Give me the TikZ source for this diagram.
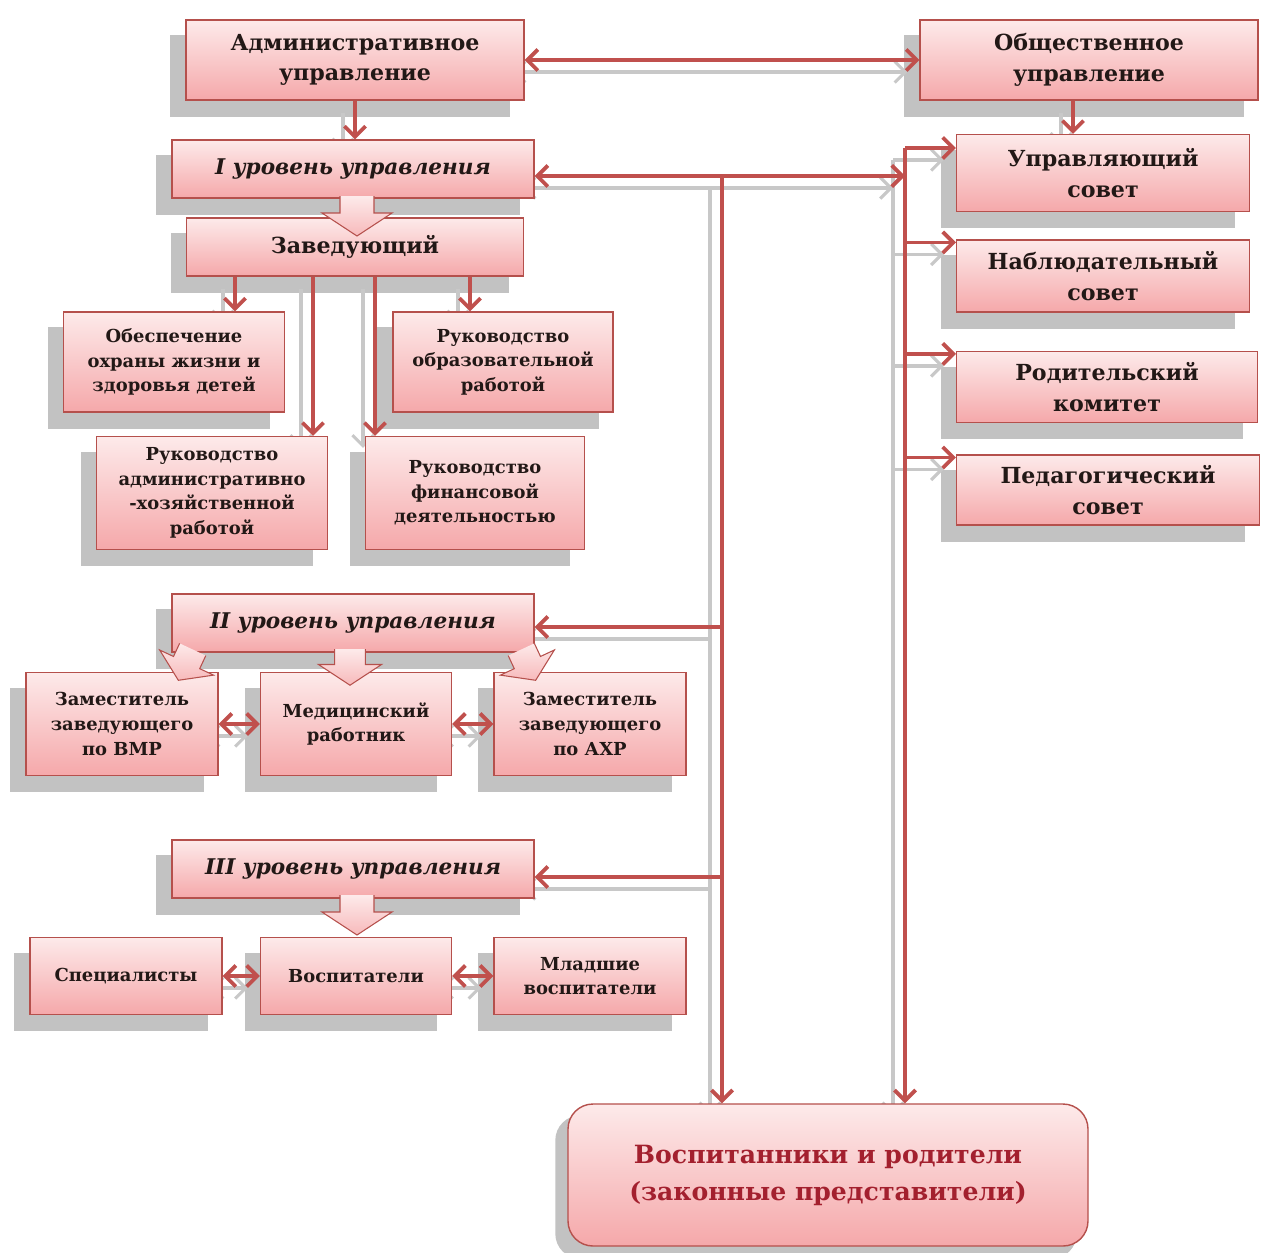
\documentclass[tikz,border=0pt]{standalone}
\usepackage{fontspec}
\setmainfont{DejaVu Serif}
\usetikzlibrary{arrows.meta, calc}

\definecolor{wirered}{HTML}{C0504D}
\definecolor{ghostgray}{HTML}{C8C8C8}
\definecolor{boxtop}{HTML}{FDEAEA}
\definecolor{boxbot}{HTML}{F5A8AA}
\definecolor{boxedge}{HTML}{B5504C}
\definecolor{inktext}{HTML}{221816}
\definecolor{pupilink}{HTML}{A3202E}
\definecolor{shadowgray}{HTML}{C2C2C2}

\pgfdeclarelayer{background}
\pgfsetlayers{background,main}

% red connector with its gray shadow copy underneath
\newcommand{\flow}[2][->]{%
  \begin{pgfonlayer}{background}
    \draw[ghost, #1] #2;
  \end{pgfonlayer}
  \draw[wire, #1] #2;}

\tikzset{
  box/.style={draw=boxedge, line width=0.6pt, top color=boxtop, bottom color=boxbot,
    text=inktext, align=center, inner sep=2pt},
  wh/.style 2 args={minimum width=#1*0.02cm, minimum height=#2*0.02cm},
  big/.style={font=\bfseries\fontsize{12.6}{17.5}\selectfont},
  small/.style={font=\bfseries\fontsize{10.2}{14}\selectfont},
  lvl/.style={font=\bfseries\itshape\fontsize{12.3}{17}\selectfont},
  wire/.style={draw=wirered, line width=2.2pt},
  ghost/.style={draw=ghostgray, line width=1.8pt,
    transform canvas={xshift=-0.24cm, yshift=-0.24cm}},
  pics/fatarrow/.style={code={
    \path[top color=boxtop, bottom color=boxbot!80!white]
      (-17,-2) -- (-17,15) -- (-35,15) -- (0,38) -- (35,15) -- (17,15) -- (17,-2) -- cycle;
    \draw[boxedge, line width=0.6pt]
      (-17,-2) -- (-17,15) -- (-35,15) -- (0,38) -- (35,15) -- (17,15) -- (17,-2);
  }}
}

\begin{document}
\begin{tikzpicture}[x=0.02cm, y=-0.02cm, >={Straight Barb[length=6pt,width=12pt]}]
\useasboundingbox (0,0) rectangle (1261,1252);

% governing bodies
\node[box, big, wh={338}{80}] (adm) at (355,60) {Административное\\управление};
\node[box, big, wh={338}{80}] (obsh) at (1089,60) {Общественное\\управление};

% first level
\node[box, lvl, wh={362}{58}] (lvl1) at (353,169) {I уровень управления};
\node[box, big, wh={337}{58}] (zav) at (355,247) {Заведующий};
\node[box, small, wh={221}{100}] (ohr) at (174,362) {Обеспечение\\охраны жизни и\\здоровья детей};
\node[box, small, wh={220}{100}] (obr) at (503,362) {Руководство\\образовательной\\работой};
\node[box, small, wh={231}{113}] (ahr) at (212,493) {Руководство\\административно\\-хозяйственной\\работой};
\node[box, small, wh={219}{113}] (fin) at (475,493) {Руководство\\финансовой\\деятельностью};

% second level
\node[box, lvl, wh={362}{58}] (lvl2) at (353,623) {II уровень управления};
\node[box, small, wh={192}{103}] (vmp) at (122,724) {Заместитель\\заведующего\\по ВМР};
\node[box, small, wh={191}{103}] (med) at (356,724) {Медицинский\\работник};
\node[box, small, wh={192}{103}] (axr) at (590,724) {Заместитель\\заведующего\\по АХР};

% third level
\node[box, lvl, wh={362}{58}] (lvl3) at (353,869) {III уровень управления};
\node[box, small, wh={192}{77}] (spec) at (126,976) {Специалисты};
\node[box, small, wh={191}{77}] (vosp) at (356,976) {Воспитатели};
\node[box, small, wh={192}{77}] (mlad) at (590,976) {Младшие\\воспитатели};

% public side
\node[box, big, wh={293}{77}] (upr) at (1103,173) {Управляющий\\совет};
\node[box, big, wh={293}{72}] (nab) at (1103,276) {Наблюдательный\\совет};
\node[box, big, wh={301}{71}] (rod) at (1107,387) {Родительский\\комитет};
\node[box, big, wh={303}{70}] (ped) at (1108,490) {Педагогический\\совет};

\node[box, wh={520}{142}, rounded corners=0.5cm, line width=0.8pt, text=pupilink,
  font=\bfseries\fontsize{14.3}{21}\selectfont] (pupils) at (828,1175)
  {Воспитанники и родители\\(законные представители)};

% box shadows
\begin{pgfonlayer}{background}
  \foreach \n in {adm,obsh,lvl1,zav,ohr,obr,ahr,fin,lvl2,vmp,med,axr,lvl3,spec,vosp,mlad,upr,nab,rod,ped}
    \fill[shadowgray] ($(\n.south west)+(-15,16)$) rectangle ($(\n.north east)+(-15,16)$);
  \fill[shadowgray, rounded corners=0.5cm] ($(pupils.south west)+(-12,12)$) rectangle ($(pupils.north east)+(-12,12)$);
\end{pgfonlayer}

% buses
\coordinate (rtop) at (905,148);
\coordinate (ltop) at (722,176);

\flow[<->]{(adm.east) -- (obsh.west)};
\flow{(adm.south) -- (lvl1.north -| adm.south)};
\flow{(obsh.south -| 1073,0) -- (upr.north -| 1073,0)};
\flow[<->]{(lvl1.east |- ltop) -- (ltop -| rtop)};
\flow{(rtop) -- (rtop -| upr.west)};
\foreach \b in {nab,rod,ped}
  \flow{($(rtop |- \b.north)+(0,3)$) -- ($(\b.north west)+(0,3)$)};
\flow{(rtop) -- (rtop |- pupils.north)};
\flow{(ltop) -- (ltop |- pupils.north)};
\flow{($(ltop |- lvl2.east)+(0,4)$) -- ($(lvl2.east)+(0,4)$)};
\flow{($(ltop |- lvl3.east)+(0,8)$) -- ($(lvl3.east)+(0,8)$)};

\foreach \x/\c in {235/ohr, 313/ahr, 375/fin, 470/obr}
  \flow{(zav.south -| \x,0) -- (\c.north -| \x,0)};

\foreach \a/\b in {vmp/med, med/axr, spec/vosp, vosp/mlad}
  \flow[<->]{(\a.east) -- (\b.west)};

% block arrows between levels
\pic at (357,198) {fatarrow};
\pic[rotate=-25, scale=0.85] at (192,651) {fatarrow};
\pic[scale=0.9] at (350,651) {fatarrow};
\pic[rotate=25, scale=0.85] at (522,651) {fatarrow};
\pic at (357,897) {fatarrow};
\end{tikzpicture}
\end{document}
